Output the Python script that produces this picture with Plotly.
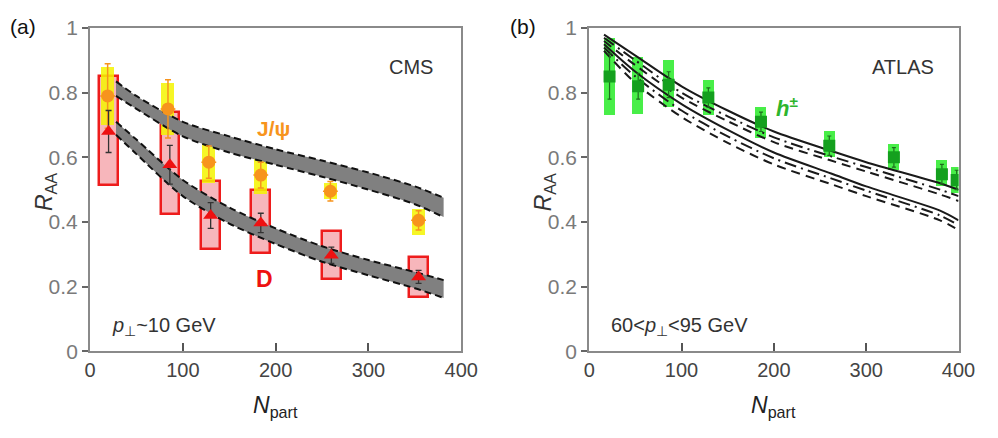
import plotly.graph_objects as go

# ---------------- Panel (a) data: CMS ----------------
npart_jpsi = [19, 84, 128, 184, 259, 354]
raa_jpsi = [0.79, 0.75, 0.585, 0.545, 0.495, 0.405]
err_jpsi = [0.10, 0.09, 0.05, 0.04, 0.03, 0.03]
sys_jpsi_lo = [0.70, 0.67, 0.52, 0.485, 0.47, 0.36]
sys_jpsi_hi = [0.88, 0.83, 0.64, 0.60, 0.52, 0.44]

npart_d = [20, 86, 130, 184, 260, 354]
raa_d = [0.68, 0.577, 0.42, 0.397, 0.297, 0.23]
err_d = [0.065, 0.06, 0.04, 0.03, 0.025, 0.02]
sys_d_lo = [0.515, 0.425, 0.315, 0.303, 0.223, 0.168]
sys_d_hi = [0.85, 0.74, 0.525, 0.50, 0.373, 0.29]

band_n = [28, 50, 100, 150, 200, 250, 300, 350, 381]
band_jpsi_top = [0.835, 0.79, 0.71, 0.665, 0.625, 0.59, 0.553, 0.51, 0.475]
band_jpsi_bot = [0.79, 0.75, 0.665, 0.615, 0.577, 0.54, 0.50, 0.455, 0.415]
band_d_top = [0.71, 0.655, 0.53, 0.445, 0.38, 0.325, 0.282, 0.245, 0.22]
band_d_bot = [0.67, 0.61, 0.48, 0.395, 0.332, 0.277, 0.235, 0.195, 0.165]

# ---------------- Panel (b) data: ATLAS ----------------
npart_h = [22, 53, 86, 129, 186, 260, 330, 382, 398]
raa_h = [0.85, 0.82, 0.825, 0.785, 0.71, 0.636, 0.60, 0.548, 0.53]
err_h = [0.07, 0.04, 0.04, 0.03, 0.03, 0.03, 0.03, 0.03, 0.03]
sys_h_lo = [0.73, 0.735, 0.755, 0.73, 0.66, 0.60, 0.56, 0.51, 0.49]
sys_h_hi = [0.97, 0.91, 0.90, 0.84, 0.755, 0.68, 0.64, 0.59, 0.57]

curve_n = [16, 50, 100, 150, 200, 262, 300, 380, 400]
curve_us = [0.98, 0.915, 0.82, 0.745, 0.68, 0.62, 0.585, 0.52, 0.50]
curve_udd = [0.97, 0.90, 0.80, 0.727, 0.662, 0.603, 0.570, 0.50, 0.48]
curve_ud = [0.96, 0.885, 0.785, 0.712, 0.647, 0.59, 0.556, 0.485, 0.465]
curve_ls = [0.95, 0.865, 0.765, 0.685, 0.615, 0.55, 0.51, 0.435, 0.405]
curve_ldd = [0.94, 0.85, 0.745, 0.665, 0.597, 0.535, 0.497, 0.42, 0.39]
curve_ld = [0.93, 0.83, 0.725, 0.645, 0.578, 0.517, 0.48, 0.405, 0.375]

x_ticks = [0, 100, 200, 300, 400]
y_ticks = [0, 0.2, 0.4, 0.6, 0.8, 1]
y_tick_text = ["0", "0.2", "0.4", "0.6", "0.8", "1"]

FONT = "Liberation Sans, Arial, sans-serif"
fig = go.Figure()

def diff(hi, lo):
    return [h - l for h, l in zip(hi, lo)]

# Bands (panel a)
for top, bot in [(band_jpsi_top, band_jpsi_bot), (band_d_top, band_d_bot)]:
    fig.add_trace(go.Scatter(x=band_n, y=bot, mode="lines",
                             line=dict(color="#111", width=2, dash="7px,4px", shape="spline", smoothing=0.8),
                             xaxis="x", yaxis="y", showlegend=False, hoverinfo="skip"))
    fig.add_trace(go.Scatter(x=band_n, y=top, mode="lines",
                             line=dict(color="#111", width=2, dash="7px,4px", shape="spline", smoothing=0.8),
                             fill="tonexty", fillcolor="#808080",
                             xaxis="x", yaxis="y", showlegend=False, hoverinfo="skip"))

# D systematic boxes
fig.add_trace(go.Bar(x=npart_d, y=diff(sys_d_hi, sys_d_lo), base=sys_d_lo, width=20,
                     marker=dict(color="rgba(240,110,120,0.5)", line=dict(color="#ee1c1c", width=2.5)),
                     xaxis="x", yaxis="y", showlegend=False))
# J/psi systematic boxes
fig.add_trace(go.Bar(x=npart_jpsi, y=diff(sys_jpsi_hi, sys_jpsi_lo), base=sys_jpsi_lo, width=14,
                     marker=dict(color="rgba(245,245,0,0.85)", line=dict(width=0)),
                     xaxis="x", yaxis="y", showlegend=False))
# J/psi points
fig.add_trace(go.Scatter(x=npart_jpsi, y=raa_jpsi, mode="markers",
                         marker=dict(symbol="circle", size=13, color="#f7941d"),
                         error_y=dict(type="data", array=err_jpsi, color="#f7941d", thickness=1.5, width=3),
                         error_x=dict(type="constant", value=8, color="#f7941d", thickness=1.5, width=0),
                         xaxis="x", yaxis="y", showlegend=False))
# D points
fig.add_trace(go.Scatter(x=npart_d, y=raa_d, mode="markers",
                         marker=dict(symbol="triangle-up", size=13, color="#ee1111"),
                         error_y=dict(type="data", array=err_d, color="#333", thickness=1.3, width=3),
                         xaxis="x", yaxis="y", showlegend=False))

# Panel (b) curves
for ys, dash in [(curve_us, "solid"), (curve_udd, "12px,5px,2px,5px"), (curve_ud, "9px,6px"),
                 (curve_ls, "solid"), (curve_ldd, "12px,5px,2px,5px"), (curve_ld, "9px,6px")]:
    fig.add_trace(go.Scatter(x=curve_n, y=ys, mode="lines",
                             line=dict(color="#1a1a1a", width=2, dash=dash, shape="spline", smoothing=0.8),
                             xaxis="x2", yaxis="y2", showlegend=False, hoverinfo="skip"))

fig.add_trace(go.Bar(x=npart_h, y=diff(sys_h_hi, sys_h_lo), base=sys_h_lo, width=12,
                     marker=dict(color="rgba(40,235,40,0.85)", line=dict(width=0)),
                     xaxis="x2", yaxis="y2", showlegend=False))
fig.add_trace(go.Scatter(x=npart_h, y=raa_h, mode="markers",
                         marker=dict(symbol="square", size=12, color="#14a01e"),
                         error_y=dict(type="data", array=err_h, color="#1d6b1d", thickness=1.2, width=2),
                         xaxis="x2", yaxis="y2", showlegend=False))

ydom = [1 - 358 / 438, 1 - 17 / 438]
axis_common = dict(range=[0, 400], tickvals=x_ticks, ticks="inside", ticklen=8, tickwidth=1.5, tickcolor="#555",
                   showline=True, linecolor="#8a8a8a", linewidth=2, mirror=True, showgrid=False, zeroline=False,
                   tickfont=dict(family=FONT, size=20, color="#444"), fixedrange=True)
yaxis_common = dict(range=[0, 1], tickvals=y_ticks, ticktext=y_tick_text, ticks="outside", ticklen=6, tickwidth=1.5,
                    tickcolor="#666", showline=True, linecolor="#8a8a8a", linewidth=2, mirror=True, showgrid=False,
                    zeroline=False, tickfont=dict(family=FONT, size=21, color="#7a7a7a"), fixedrange=True)

fig.update_layout(
    width=998, height=438, margin=dict(l=0, r=0, t=0, b=0),
    paper_bgcolor="white", plot_bgcolor="white", barmode="overlay", bargap=0,
    font=dict(family=FONT),
    xaxis=dict(domain=[86 / 998, 466 / 998], anchor="y", **axis_common),
    yaxis=dict(domain=ydom, anchor="x", **yaxis_common),
    xaxis2=dict(domain=[597 / 998, 975 / 998], anchor="y2", **axis_common),
    yaxis2=dict(domain=ydom, anchor="x2", **yaxis_common),
)

ann = []
def paper_text(text, x, y, size, color="#111", xanchor="center"):
    ann.append(dict(text=text, x=x / 998, y=1 - y / 438, xref="paper", yref="paper", showarrow=False,
                    xanchor=xanchor, yanchor="middle", font=dict(family=FONT, size=size, color=color)))

paper_text("(a)", 17, 15, 21)
paper_text("(b)", 529, 15, 21)
for xc in (276, 786):
    paper_text("<i>N</i><sub>part</sub>", xc, 416, 23, "#222")
for xc in (40, 551):
    ann.append(dict(text="<i>R</i><sub>AA</sub>", x=xc / 998, y=1 - 190 / 438, xref="paper", yref="paper",
                    showarrow=False, textangle=-90, xanchor="center", yanchor="middle",
                    font=dict(family=FONT, size=23, color="#333")))
paper_text("CMS", 415, 58, 20, "#333")
paper_text("ATLAS", 918, 58, 20, "#333")
paper_text("<i>p</i><sub>\u22a5</sub>~10 GeV", 106, 332, 20, "#333", "left")
paper_text("60&lt;<i>p</i><sub>\u22a5</sub>&lt;95 GeV", 617, 332, 20, "#333", "left")
paper_text("<b>J/\u03c8</b>", 274, 123, 21, "#f7941d")
paper_text("<b>D</b>", 265, 282, 23, "#ee1111")
paper_text("<b><i>h</i><sup>\u00b1</sup></b>", 799, 100, 22, "#2db52d")
fig.update_layout(annotations=ann)

fig.write_html("out.html")
